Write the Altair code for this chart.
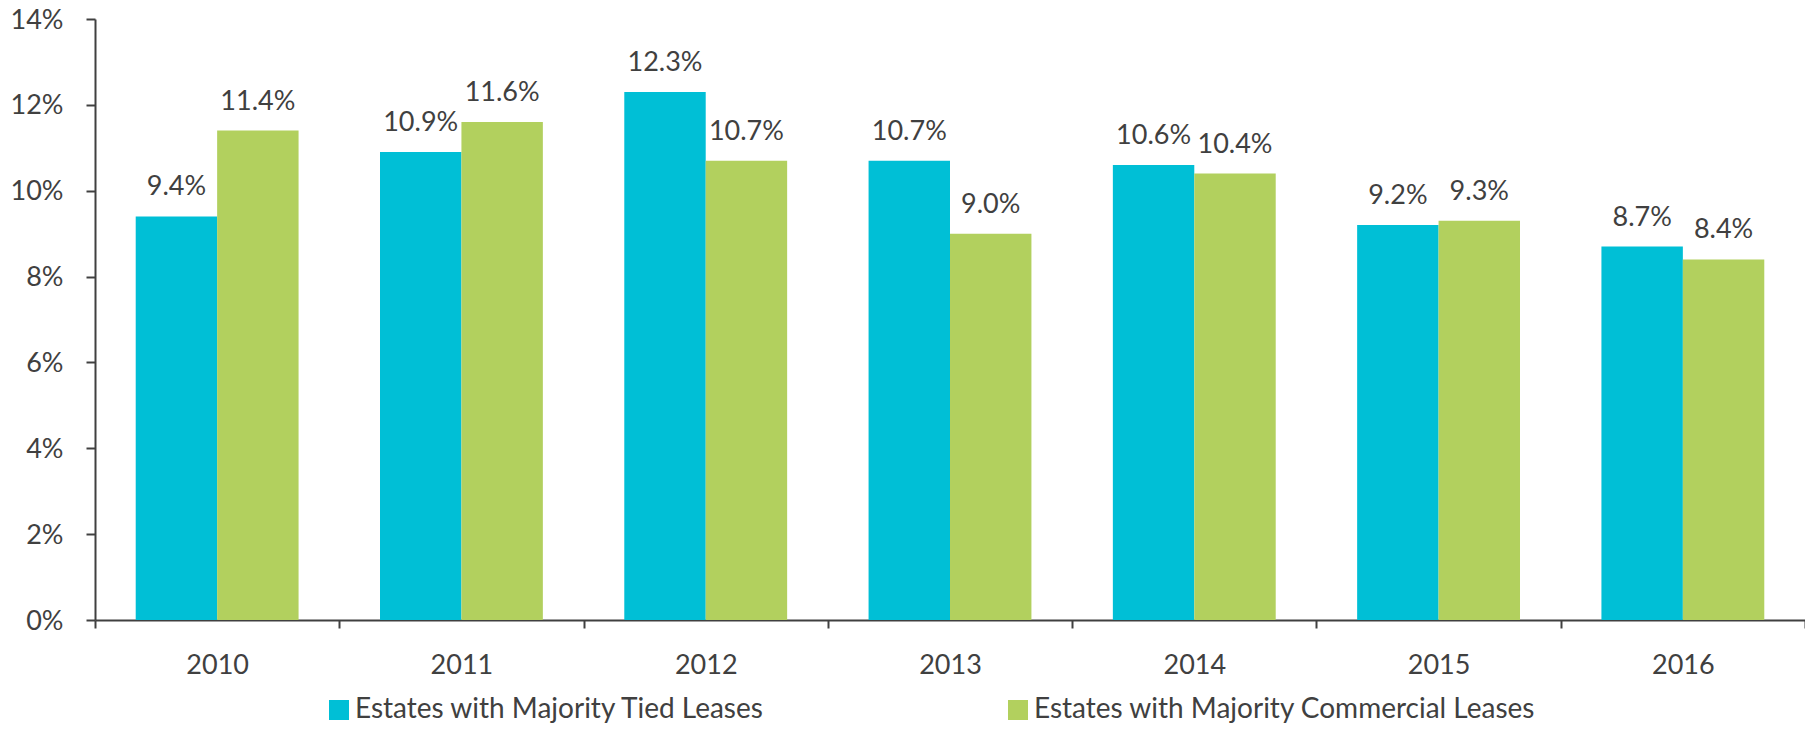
import altair as alt
import pandas as pd

years = ["2010", "2011", "2012", "2013", "2014", "2015", "2016"]
tied = [9.4, 10.9, 12.3, 10.7, 10.6, 9.2, 8.7]
commercial = [11.4, 11.6, 10.7, 9.0, 10.4, 9.3, 8.4]
series = ["Estates with Majority Tied Leases", "Estates with Majority Commercial Leases"]
colors = ["#00BFD6", "#B2D05E"]
y_ticks = [0, 2, 4, 6, 8, 10, 12, 14]

rows = []
for i, yr in enumerate(years):
    rows.append({"year": yr, "series": series[0], "value": tied[i]})
    rows.append({"year": yr, "series": series[1], "value": commercial[i]})
df = pd.DataFrame(rows)

FONT = "Lato"
TXT = "#404040"
FS = 27

base = alt.Chart(df).encode(
    x=alt.X(
        "year:N",
        sort=years,
        scale=alt.Scale(paddingInner=0, paddingOuter=0),
        axis=alt.Axis(
            title=None, labelAngle=0, tickBand="extent", tickSize=8, tickWidth=2,
            tickColor=TXT, domainColor=TXT, domainWidth=2, labelPadding=24,
            labelFont=FONT, labelFontSize=FS, labelColor=TXT, grid=False,
        ),
    ),
    xOffset=alt.XOffset("series:N", sort=series, scale=alt.Scale(paddingOuter=0.5, paddingInner=0)),
    y=alt.Y(
        "value:Q",
        scale=alt.Scale(domain=[0, 14], nice=False),
        axis=alt.Axis(
            title=None, values=y_ticks, labelExpr="datum.value + '%'", tickSize=9,
            tickWidth=2, tickColor=TXT, domainColor=TXT, domainWidth=2,
            labelPadding=23, labelOffset=1, labelFont=FONT, labelFontSize=FS,
            labelColor=TXT, grid=False,
        ),
    ),
)

bars = base.mark_bar().encode(
    color=alt.Color(
        "series:N",
        sort=series,
        scale=alt.Scale(domain=series, range=colors),
        legend=alt.Legend(
            title=None, orient="none", legendX=230, legendY=677, direction="horizontal",
            symbolType="square", symbolSize=400, symbolStrokeWidth=0,
            labelFont=FONT, labelFontSize=28, labelColor=TXT, labelLimit=1000,
            columnPadding=239, labelOffset=2, padding=0,
        ),
    )
)

labels = base.transform_calculate(
    label="format(datum.value, '.1f') + '%'"
).mark_text(
    dy=-21, baseline="alphabetic", fontSize=FS, font=FONT, color=TXT
).encode(text="label:N")

chart = alt.layer(bars, labels).properties(
    width=1710,
    height=601,
    autosize=alt.AutoSizeParams(type="none"),
    padding={"left": 87, "top": 11, "right": 0, "bottom": 104},
).configure_view(stroke=None)

chart.save("out.html", embed_options={"renderer": "svg", "actions": False})
